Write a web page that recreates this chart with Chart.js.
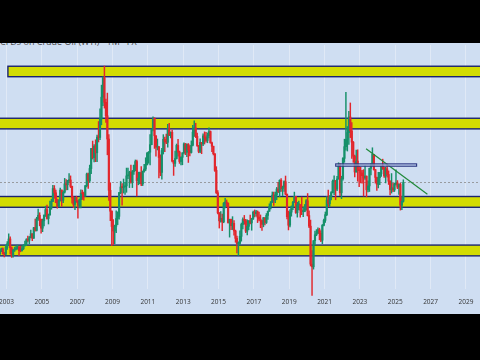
<!DOCTYPE html>
<html>
<head>
<meta charset="utf-8">
<script src="https://cdn.jsdelivr.net/npm/chart.js@4.4.1/dist/chart.umd.min.js"></script>
<style>
  html, body { margin: 0; padding: 0; width: 480px; height: 360px; overflow: hidden; background: #000; }
  #plot { position: absolute; left: 0; top: 43px; width: 480px; height: 271px; background: #cfdef2; }
  #title { position: absolute; left: 0; top: 37px; font: 9px "Open Sans", sans-serif; color: #4a4a4a; white-space: nowrap; line-height: 10px; }
  #topbar { position: absolute; left: 0; top: 0; width: 480px; height: 43px; background: #000; }
  #wrap { position: absolute; left: -20px; top: 0; width: 520px; height: 315px; }
</style>
</head>
<body>
<div id="plot"></div>
<div id="title">CFDs on Crude Oil (WTI) · 1M · FX</div>
<div id="topbar"></div>
<div id="wrap"><canvas id="chart"></canvas></div>
<script>
// monthly candles, first one is Aug 2002
const startYear = 2002;
const startMonth = 7;

const opens = [
  27.0, 29.0, 30.4, 27.2, 26.9,
  31.2, 33.5, 36.6, 31.0, 25.8, 29.6, 30.2, 30.5, 31.6, 29.2, 29.1, 30.4,
  32.5, 33.0, 36.2, 35.8, 37.4, 39.9, 37.1, 43.8, 42.1, 49.6, 51.8, 49.1,
  43.5, 48.2, 51.8, 55.4, 49.7, 52.0, 56.5, 60.6, 68.9, 66.2, 59.8, 57.3,
  61.0, 67.9, 61.4, 66.6, 71.9, 71.3, 73.9, 74.4, 70.3, 62.9, 58.7, 63.1,
  61.1, 58.1, 61.8, 65.9, 65.7, 64.0, 70.7, 78.2, 74.0, 81.7, 94.5, 88.7,
  96.0, 91.8, 101.8, 101.6, 113.5, 127.4, 140.0, 124.1, 115.5, 100.6, 67.8, 54.4,
  44.6, 41.7, 44.8, 49.7, 51.1, 66.3, 69.9, 69.5, 70.0, 70.6, 77.0, 77.3,
  79.4, 72.9, 79.7, 83.8, 86.2, 74.0, 75.6, 79.0, 71.9, 80.0, 81.4, 84.1,
  91.4, 92.2, 97.0, 106.7, 113.9, 102.7, 95.4, 95.7, 88.8, 79.2, 93.2, 100.4,
  98.8, 98.5, 107.1, 103.0, 104.9, 86.5, 85.0, 88.1, 96.5, 92.2, 86.2, 88.9,
  91.8, 97.5, 92.1, 97.2, 93.5, 92.0, 96.6, 105.0, 107.7, 102.3, 96.4, 92.7,
  98.4, 97.5, 102.6, 101.6, 99.7, 102.7, 105.4, 98.2, 96.0, 91.2, 80.5, 66.2,
  53.3, 48.2, 49.8, 47.6, 59.6, 60.3, 59.5, 47.1, 49.2, 45.1, 46.6, 41.7,
  37.0, 33.6, 33.8, 38.3, 45.9, 49.1, 48.3, 41.6, 44.7, 48.2, 46.9, 49.4,
  53.7, 52.8, 54.0, 50.6, 49.3, 48.3, 46.0, 50.2, 47.2, 51.7, 54.4, 57.4,
  60.4, 64.7, 61.6, 64.9, 68.6, 67.0, 74.2, 68.8, 69.8, 73.3, 65.3, 50.9,
  45.4, 53.8, 57.2, 60.1, 63.9, 53.5, 58.5, 58.6, 55.1, 54.1, 54.2, 55.2,
  61.1, 51.6, 44.8, 20.5, 18.8, 35.5, 39.3, 40.3, 42.6, 40.2, 35.8, 45.3,
  48.5, 52.2, 61.5, 59.2, 63.6, 66.3, 73.5, 74.0, 68.5, 75.0, 83.6, 66.2,
  75.2, 88.2, 95.7, 100.3, 104.7, 114.7, 105.8, 98.6, 89.6, 79.5, 86.5, 80.6,
  80.3, 78.9, 77.1, 75.7, 76.8, 68.1, 70.6, 81.8, 83.6, 90.8, 81.0, 76.0,
  71.7, 75.9, 78.3, 83.2, 81.9, 77.0, 81.5, 77.9, 73.6, 68.2, 69.3, 68.0,
  71.7, 72.5, 69.8, 71.5, 58.2, 60.8
];
const highs = [
  30.0, 30.8, 30.9, 28.0, 32.7,
  35.0, 39.9, 38.0, 31.5, 30.0, 31.4, 32.2, 32.7, 31.6, 31.9, 31.9, 33.0,
  35.2, 36.8, 38.4, 38.2, 42.3, 40.0, 44.0, 49.4, 50.5, 55.7, 53.4, 49.3,
  49.4, 52.0, 57.6, 58.3, 52.6, 60.9, 62.1, 70.9, 70.8, 67.9, 62.1, 61.9,
  69.2, 68.0, 67.4, 75.4, 74.7, 74.2, 78.4, 77.0, 70.4, 63.7, 63.1, 64.0,
  61.1, 62.3, 68.1, 67.9, 66.7, 70.9, 78.8, 78.8, 83.9, 94.7, 99.3, 97.0,
  100.1, 103.1, 111.8, 119.9, 135.1, 140.4, 147.3, 126.2, 130.0, 103.4, 72.6, 54.7,
  49.1, 45.5, 54.7, 54.0, 66.4, 73.4, 72.0, 75.0, 72.9, 82.0, 82.0, 80.0,
  83.9, 80.5, 83.9, 87.2, 87.2, 79.4, 79.5, 83.0, 80.1, 84.4, 88.6, 92.1,
  92.6, 103.4, 106.9, 114.8, 114.2, 102.7, 100.6, 95.7, 90.5, 94.7, 103.4, 101.8,
  103.7, 110.0, 110.6, 105.2, 106.4, 86.9, 92.9, 97.4, 100.4, 92.9, 89.4, 91.8,
  98.2, 97.8, 97.6, 97.7, 96.4, 99.4, 109.3, 112.2, 110.7, 104.4, 96.5, 100.8,
  98.4, 103.9, 105.2, 104.9, 104.5, 107.7, 105.8, 98.7, 96.0, 91.2, 82.9, 67.6,
  53.5, 54.2, 52.5, 59.9, 62.6, 61.6, 59.7, 49.3, 49.3, 50.9, 48.4, 42.3,
  38.4, 34.8, 41.9, 46.8, 50.2, 51.7, 49.2, 48.8, 48.4, 51.9, 49.9, 54.5,
  55.2, 54.9, 54.6, 53.8, 52.0, 48.6, 50.4, 50.2, 52.9, 54.5, 59.1, 60.5,
  66.7, 66.7, 66.6, 69.6, 72.9, 74.5, 75.3, 70.5, 73.9, 76.9, 65.3, 54.5,
  55.4, 57.8, 60.7, 66.6, 63.9, 60.1, 60.9, 58.6, 63.4, 56.9, 58.7, 61.9,
  65.7, 54.7, 48.7, 29.1, 35.6, 41.6, 42.6, 43.8, 43.5, 41.9, 45.9, 49.4,
  53.9, 63.8, 67.9, 64.4, 67.0, 74.4, 77.0, 74.0, 76.7, 85.4, 84.9, 76.8,
  88.8, 100.5, 130.5, 108.6, 118.4, 123.7, 111.1, 99.0, 90.4, 93.6, 93.7, 83.3,
  82.7, 80.6, 81.0, 83.5, 77.0, 73.9, 82.0, 84.9, 95.0, 90.8, 81.1, 76.2,
  79.3, 79.3, 83.1, 87.7, 82.6, 82.5, 84.5, 80.2, 74.0, 78.5, 72.2, 72.4,
  80.8, 74.0, 71.9, 72.3, 63.9, 74.5
];
const lows = [
  26.5, 28.5, 26.9, 25.1, 26.4,
  30.0, 32.6, 27.0, 24.8, 25.0, 28.6, 29.6, 30.0, 25.9, 28.4, 28.8, 29.8,
  32.0, 32.3, 34.7, 33.5, 37.3, 35.5, 37.0, 41.6, 41.7, 48.5, 45.0, 40.3,
  41.3, 45.0, 51.0, 49.3, 46.2, 51.8, 55.6, 60.5, 62.6, 59.8, 56.3, 57.1,
  61.0, 57.6, 59.9, 66.0, 68.0, 68.1, 72.7, 69.5, 59.5, 56.6, 55.3, 60.0,
  49.9, 56.5, 56.5, 61.9, 61.5, 64.0, 70.0, 69.0, 72.8, 78.4, 87.8, 85.9,
  86.1, 86.1, 98.7, 100.2, 109.7, 122.0, 120.4, 111.3, 90.5, 61.3, 48.3, 32.4,
  33.2, 33.6, 40.7, 45.8, 49.3, 65.6, 58.3, 66.0, 65.1, 66.5, 75.2, 69.5,
  72.4, 69.5, 78.0, 80.2, 64.2, 71.3, 71.8, 70.8, 70.8, 79.4, 80.4, 84.0,
  85.1, 84.1, 96.9, 105.8, 94.6, 89.6, 93.6, 75.7, 77.1, 74.9, 91.0, 92.5,
  97.7, 95.4, 102.8, 101.3, 86.0, 77.3, 83.0, 87.8, 89.7, 85.0, 84.1, 84.1,
  91.0, 90.6, 89.3, 85.6, 89.8, 91.6, 96.2, 102.2, 101.5, 95.9, 91.8, 91.8,
  91.2, 96.3, 97.4, 98.6, 98.2, 101.3, 97.9, 92.5, 90.4, 79.8, 65.7, 52.6,
  43.6, 47.4, 42.0, 47.0, 56.5, 57.2, 46.7, 37.8, 42.6, 42.6, 39.0, 34.5,
  27.6, 26.1, 32.8, 35.2, 43.0, 46.0, 40.6, 39.2, 42.5, 46.2, 42.2, 49.2,
  50.7, 51.2, 47.1, 48.2, 43.8, 42.1, 44.4, 45.6, 46.5, 49.1, 54.3, 55.8,
  59.9, 58.1, 59.9, 61.8, 66.2, 63.6, 67.0, 64.4, 67.0, 64.9, 49.4, 42.4,
  44.4, 51.2, 55.4, 60.0, 53.0, 50.6, 55.2, 50.5, 52.1, 50.9, 54.0, 55.0,
  51.3, 43.8, 19.3, 0.5, 17.3, 33.0, 38.7, 40.2, 36.1, 34.9, 33.6, 44.9,
  47.2, 51.6, 57.3, 57.6, 61.6, 66.1, 65.0, 61.7, 67.6, 74.9, 64.4, 62.4,
  74.3, 85.7, 93.5, 92.9, 97.2, 101.5, 88.2, 85.7, 76.3, 79.3, 73.6, 70.1,
  72.5, 72.3, 64.1, 74.8, 63.6, 66.8, 67.0, 77.6, 83.5, 80.6, 72.4, 67.7,
  69.3, 71.4, 76.6, 81.1, 76.0, 72.5, 76.2, 71.5, 64.8, 66.0, 66.9, 67.0,
  71.0, 68.8, 65.2, 55.1, 55.3, 60.2
];
const closes = [
  29.0, 30.4, 27.2, 26.9, 31.2,
  33.5, 36.6, 31.0, 25.8, 29.6, 30.2, 30.5, 31.6, 29.2, 29.1, 30.4, 32.5,
  33.0, 36.2, 35.8, 37.4, 39.9, 37.1, 43.8, 42.1, 49.6, 51.8, 49.1, 43.5,
  48.2, 51.8, 55.4, 49.7, 52.0, 56.5, 60.6, 68.9, 66.2, 59.8, 57.3, 61.0,
  67.9, 61.4, 66.6, 71.9, 71.3, 73.9, 74.4, 70.3, 62.9, 58.7, 63.1, 61.1,
  58.1, 61.8, 65.9, 65.7, 64.0, 70.7, 78.2, 74.0, 81.7, 94.5, 88.7, 96.0,
  91.8, 101.8, 101.6, 113.5, 127.4, 140.0, 124.1, 115.5, 100.6, 67.8, 54.4, 44.6,
  41.7, 44.8, 49.7, 51.1, 66.3, 69.9, 69.5, 70.0, 70.6, 77.0, 77.3, 79.4,
  72.9, 79.7, 83.8, 86.2, 74.0, 75.6, 79.0, 71.9, 80.0, 81.4, 84.1, 91.4,
  92.2, 97.0, 106.7, 113.9, 102.7, 95.4, 95.7, 88.8, 79.2, 93.2, 100.4, 98.8,
  98.5, 107.1, 103.0, 104.9, 86.5, 85.0, 88.1, 96.5, 92.2, 86.2, 88.9, 91.8,
  97.5, 92.1, 97.2, 93.5, 92.0, 96.6, 105.0, 107.7, 102.3, 96.4, 92.7, 98.4,
  97.5, 102.6, 101.6, 99.7, 102.7, 105.4, 98.2, 96.0, 91.2, 80.5, 66.2, 53.3,
  48.2, 49.8, 47.6, 59.6, 60.3, 59.5, 47.1, 49.2, 45.1, 46.6, 41.7, 37.0,
  33.6, 33.8, 38.3, 45.9, 49.1, 48.3, 41.6, 44.7, 48.2, 46.9, 49.4, 53.7,
  52.8, 54.0, 50.6, 49.3, 48.3, 46.0, 50.2, 47.2, 51.7, 54.4, 57.4, 60.4,
  64.7, 61.6, 64.9, 68.6, 67.0, 74.2, 68.8, 69.8, 73.3, 65.3, 50.9, 45.4,
  53.8, 57.2, 60.1, 63.9, 53.5, 58.5, 58.6, 55.1, 54.1, 54.2, 55.2, 61.1,
  51.6, 44.8, 20.5, 18.8, 35.5, 39.3, 40.3, 42.6, 40.2, 35.8, 45.3, 48.5,
  52.2, 61.5, 59.2, 63.6, 66.3, 73.5, 74.0, 68.5, 75.0, 83.6, 66.2, 75.2,
  88.2, 95.7, 100.3, 104.7, 114.7, 105.8, 98.6, 89.6, 79.5, 86.5, 80.6, 80.3,
  78.9, 77.1, 75.7, 76.8, 68.1, 70.6, 81.8, 83.6, 90.8, 81.0, 76.0, 71.7,
  75.9, 78.3, 83.2, 81.9, 77.0, 81.5, 77.9, 73.6, 68.2, 69.3, 68.0, 71.7,
  72.5, 69.8, 71.5, 58.2, 60.8, 72.8
];

// x axis labels
const yearTicks = [2003, 2005, 2007, 2009, 2011, 2013, 2015, 2017, 2019, 2021, 2023, 2025, 2027, 2029];

// yellow support / resistance zones (price levels)
const zoneTops =    [147.2, 113.9, 63.8, 32.7];
const zoneBottoms = [140.5, 107.1, 56.9, 25.8];
const zoneStarts =  [2003.08, null, null, null];

// small box over 2022-2026
const boxYears = [2021.63, 2026.21];
const boxPrices = [84.7, 83.2];

// falling trend line
const trendYears = [2023.35, 2026.82];
const trendPrices = [94.4, 65.3];

const UP = '#15906a';
const DOWN = '#e2262c';
const xMin = 2002.632;
const xMax = 2029.797;

const months = opens.map((_, i) => startYear + (startMonth + i + 0.5) / 12);
const candleColor = i => closes[i] >= opens[i] ? UP : DOWN;
const lastClose = closes[closes.length - 1];

const zonesPlugin = {
    id: 'zones',
    beforeDatasetsDraw(chart) {
        const { ctx, chartArea, scales: { x, y } } = chart;
        ctx.save();
        zoneTops.forEach((top, i) => {
            const left = zoneStarts[i] == null ? chartArea.left - 3 : x.getPixelForValue(zoneStarts[i]);
            const right = chartArea.right + 3;
            const y1 = y.getPixelForValue(top);
            const y2 = y.getPixelForValue(zoneBottoms[i]);
            ctx.fillStyle = '#d3dc02';
            ctx.fillRect(left, y1, right - left, y2 - y1);
            ctx.strokeStyle = '#1b2470';
            ctx.lineWidth = 1.4;
            ctx.strokeRect(left, y1, right - left, y2 - y1);
        });
        ctx.restore();
    },
    afterDatasetsDraw(chart) {
        const { ctx, scales: { x, y } } = chart;
        const x1 = x.getPixelForValue(boxYears[0]);
        const x2 = x.getPixelForValue(boxYears[1]);
        const y1 = y.getPixelForValue(boxPrices[0]);
        const y2 = y.getPixelForValue(boxPrices[1]);
        ctx.save();
        ctx.fillStyle = 'rgba(190, 210, 240, 0.7)';
        ctx.fillRect(x1, y1, x2 - x1, y2 - y1);
        ctx.strokeStyle = '#2a3580';
        ctx.lineWidth = 1.1;
        ctx.strokeRect(x1, y1, x2 - x1, y2 - y1);
        ctx.restore();
    }
};

new Chart(document.getElementById('chart'), {
    type: 'bar',
    data: {
        datasets: [
            {
                // candle bodies
                data: months.map((m, i) => ({ x: m, y: [opens[i], closes[i]] })),
                backgroundColor: ctx => candleColor(ctx.dataIndex),
                barThickness: 1.5,
                minBarLength: 1,
                grouped: false,
                clip: false,
                order: 1
            },
            {
                // wicks
                data: months.map((m, i) => ({ x: m, y: [lows[i], highs[i]] })),
                backgroundColor: ctx => candleColor(ctx.dataIndex),
                barThickness: 0.8,
                grouped: false,
                clip: false,
                order: 2
            },
            {
                type: 'line',
                data: trendYears.map((t, i) => ({ x: t, y: trendPrices[i] })),
                borderColor: '#208a3a',
                borderWidth: 1.2,
                pointRadius: 0,
                order: 0
            },
            {
                type: 'line',
                data: [{ x: xMin, y: lastClose }, { x: xMax, y: lastClose }],
                borderColor: '#8a8a8a',
                borderWidth: 0.8,
                borderDash: [2, 2],
                pointRadius: 0,
                order: 3
            }
        ]
    },
    options: {
        responsive: true,
        maintainAspectRatio: false,
        animation: false,
        layout: { padding: { top: 45, left: 20, right: 20, bottom: 0 } },
        plugins: { legend: { display: false }, tooltip: { enabled: false } },
        scales: {
            x: {
                type: 'linear',
                min: xMin,
                max: xMax,
                offset: false,
                afterBuildTicks: scale => { scale.ticks = yearTicks.map(v => ({ value: v })); },
                grid: { offset: false, color: 'rgba(255,255,255,0.35)', drawTicks: false },
                border: { display: false },
                ticks: {
                    autoSkip: false,
                    maxRotation: 0,
                    padding: 10,
                    color: '#333',
                    font: { family: 'Open Sans', size: 6.5, lineHeight: 1 },
                    callback: v => String(v)
                }
            },
            y: {
                display: false,
                min: 4.9,
                max: 160.8
            }
        }
    },
    plugins: [zonesPlugin]
});
</script>
</body>
</html>
